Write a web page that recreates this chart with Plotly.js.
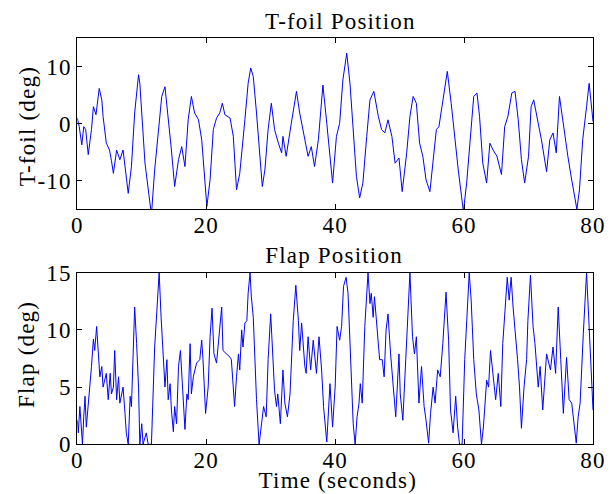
<!DOCTYPE html>
<html>
<head>
<meta charset="utf-8">
<script src="https://cdn.plot.ly/plotly-3.0.1.min.js"></script>
<style>html,body{margin:0;padding:0;background:#fff;}#chart{width:615px;height:494px;}
#chart svg text{letter-spacing:1.2px;}</style>
</head>
<body>
<div id="chart"></div>
<script>
// T-foil position (deg) vs time (s)
var tfoilTime = [0,0.3,0.7,1.0,1.3,1.7,2.2,2.5,2.9,3.4,3.8,4.0,4.5,5.0,5.3,5.6,6.1,6.6,7.1,7.9,8.4,8.9,9.5,9.7,10.5,11.0,11.5,12.0,12.6,13.1,13.6,14.1,14.6,15.1,15.7,16.2,16.7,17.2,17.7,18.2,18.8,19.3,20.1,20.6,21.1,21.6,22.1,22.5,22.9,23.7,24.2,24.7,25.2,26.0,26.5,26.9,27.3,27.8,28.3,28.7,29.1,29.6,30.1,30.6,31.2,31.7,31.9,32.4,33.2,34.0,34.5,35.0,35.8,36.3,36.8,37.4,38.1,38.7,39.2,39.6,40.2,40.7,41.2,41.8,42.3,42.8,43.3,43.8,44.3,44.9,45.4,46.0,46.7,47.2,47.7,48.2,48.8,49.3,49.9,50.4,51.1,51.6,52.1,52.6,53.1,53.6,54.1,54.7,55.2,55.7,56.1,56.5,57.0,57.4,58.0,58.5,59.1,59.6,59.9,60.4,60.9,61.5,62.0,62.4,62.9,63.5,64.0,64.5,65.1,65.8,66.3,66.8,67.4,67.9,68.4,68.9,69.4,70.0,70.4,70.8,71.5,72.0,72.8,73.3,73.8,74.3,74.8,75.6,76.1,76.6,77.2,77.5,77.9,78.4,79.0,79.4,80.0];
var tfoilDeg = [1,-0.5,-3.7,-0.5,-1,-5.4,-1,3,1.6,6.2,4.2,1.3,-3.4,-4.6,-6.5,-8.7,-4.6,-6.3,-4.6,-12.2,-7.5,1.9,8.6,7.1,-6.9,-11.6,-16,-8.1,-1,4.8,6.5,1.3,-4.6,-11,-6.3,-4,-7.5,0.7,4.8,1.9,0.7,-2.8,-14.5,-9.8,-1,1,1.9,3.6,1.6,1,-2.2,-11.6,-8.7,0.7,7.1,9.8,8.3,1.9,-5.7,-11,-8.1,-1,3.6,-1,-3.4,-5.1,-2.2,-5.7,0.1,5.7,1.9,-1,-5.7,-4,-7.5,-2.8,6.8,0.1,-6.3,-10.4,-2.2,0.1,7.7,12.4,7.1,-1,-9.2,-13,-10.4,-2.2,4.2,5.7,1.3,-1,-1.6,0.7,-2.2,-6.9,-6,-11.9,-5.1,1.3,4.8,3.6,-3.4,-5.7,-9.8,-11.9,-6.9,-1,-0.5,2.5,6,9.2,3.6,-2.2,-8.1,-12.7,-15.4,-10.4,-2.8,4.8,5.4,1.3,-6.9,-10.4,-3.4,-4.6,-5.7,-8.9,-0.5,1.3,5.4,5.7,0.7,-6.3,-10.4,-5.7,3,4.2,0.1,-2.8,-8.4,-2.8,-1.6,-5.1,4.8,-2.2,-5.7,-9.2,-13.3,-15,-11.6,-2.8,3,7.1,0.4];

// Flap position (deg) vs time (s)
var flapTime = [0,0.15,0.4,0.7,0.8,1.0,1.2,1.4,1.7,2.0,2.2,2.5,2.7,3.0,3.3,3.5,3.8,4.0,4.5,4.8,5.1,5.3,5.6,5.8,6.1,6.4,6.6,7.1,7.4,7.6,7.9,8.2,8.4,8.7,8.9,9.2,9.5,9.7,10.0,10.2,10.7,11.0,11.5,12.0,12.3,12.7,13.0,13.3,13.6,13.9,14.1,14.4,14.6,14.9,15.1,15.4,15.7,16.0,16.3,16.7,17.0,17.2,17.5,17.7,18.0,18.5,19.0,19.3,19.5,19.9,20.3,20.6,20.9,21.2,21.6,22.0,22.4,22.6,23.2,23.7,23.9,24.2,24.4,24.7,25.0,25.2,25.5,25.7,26.0,26.3,26.5,26.8,27.0,27.3,27.5,27.8,28.2,28.6,28.9,29.3,29.6,30.0,30.4,30.6,30.9,31.1,31.5,31.7,31.9,32.2,32.6,33.0,33.2,33.5,33.9,34.3,34.5,34.8,35.3,35.5,35.8,36.2,36.6,37.1,37.5,37.9,38.2,38.7,39.2,39.6,40.0,40.3,40.7,41.0,41.3,41.7,42.0,42.4,42.8,43.1,43.4,43.7,43.9,44.2,44.6,45.1,45.4,45.6,45.9,46.1,46.5,46.9,47.3,47.6,47.9,48.2,48.6,48.9,49.4,49.9,50.1,50.5,50.8,51.2,51.6,52.0,52.3,52.6,53.0,53.4,53.8,54.1,54.5,54.8,55.2,55.5,55.9,56.3,56.7,57.2,57.6,57.9,58.3,58.7,59.0,59.3,59.7,60.1,60.5,60.8,61.1,61.5,61.9,62.3,62.7,63.0,63.5,63.8,64.1,64.5,64.9,65.3,65.7,66.0,66.3,66.7,67.0,67.3,67.6,67.9,68.3,68.6,68.9,69.3,69.7,69.9,70.3,70.7,71.0,71.5,71.8,72.2,72.6,72.8,73.4,73.8,74.2,74.6,75.0,75.4,75.9,76.3,76.7,77.0,77.4,77.7,78.0,78.5,79.0,79.4,79.8,80.0];
var flapDeg = [2.1,1,3.3,0.7,0,2.4,4.2,1.5,3.3,5,6.8,9.2,8.2,10.3,7.6,5.9,6.8,5,6.2,3.9,6.2,4.4,5,8.2,3.9,5.9,3.6,5,2.7,1,0,4.2,3.3,8.8,12,8.8,5,0,1.8,0,1,0,0,8.5,11.1,15,11.1,7.9,5,7.4,3.9,5.3,3,1.1,3.3,1.8,6.8,8.2,5,1.3,4.4,3.9,8.8,4.4,5.9,7.1,7.4,9.1,7.4,2.7,5,9.4,11.9,7.9,7.1,9.8,12,8.2,7.9,7.6,7.4,5.3,3.3,5.9,7.9,6.5,10,8.5,10.6,10.8,13.2,15,12.9,11.1,7.9,3.9,0,2.1,3.3,2.4,7.4,11.4,7.1,4.7,3.3,4.4,1.8,5,6.5,3.6,2.4,4.4,6.8,10.8,13.9,10.8,8.2,10.6,6.8,6.2,9.4,6.5,9.1,6.2,9.4,6.5,3.3,0.2,5.3,1.5,5,10.3,9.1,10.3,13.8,14.6,13.2,6.8,1.8,0,2.4,3.6,5.3,3.6,10.3,15,12.3,13.2,11.1,12.9,10.3,7.4,7.4,5.9,10,11.4,7.9,5.9,2.4,7.9,4.4,2.1,5.9,10.3,15,9.4,7.9,9.4,3.6,6.8,3.3,2.1,0.1,2.7,5,3.6,6.5,5.9,8.8,13.3,9.1,3,1,4.2,1.5,0,0,7.4,12.3,15,12.6,7.4,4.4,3,0,1.5,5.6,5,8.2,5.9,3.9,6.2,3.3,8.8,11.7,14.6,12.6,14.6,12,10.3,7.4,5,1.4,5,7.4,10.8,14.8,10.3,8.8,5,6.8,3,6.5,7.9,6.5,8.5,6.2,12,7.4,2.7,7.6,3.9,3.6,2.1,0.1,2.4,3.6,9.7,15,10.3,5.9,3];

var xTicks = [0,20,40,60,80];
var tfoilTicks = [-10,0,10];
var tfoilTickText = ["-10","0","10"];
var flapTicks = [0,5,10,15];

var font = {family: "Liberation Serif, Times New Roman, serif", size: 23, color: "#000"};
function axis(extra){
  var a = {showgrid:false, zeroline:false, showline:true, linecolor:"#000", linewidth:1,
    mirror:"ticks", ticks:"inside", ticklen:5, tickcolor:"#000", tickfont:font};
  for (var k in extra) a[k]=extra[k];
  return a;
}
var traces = [
  {x: tfoilTime, y: tfoilDeg, type:"scatter", mode:"lines", line:{color:"#0000ff", width:1}, xaxis:"x", yaxis:"y", hoverinfo:"skip"},
  {x: flapTime, y: flapDeg, type:"scatter", mode:"lines", line:{color:"#0000ff", width:1}, xaxis:"x2", yaxis:"y2", hoverinfo:"skip"}
];
var xd = [77.3/615, 593/615];
var layout = {
  width:615, height:494, showlegend:false,
  paper_bgcolor:"#fff", plot_bgcolor:"#fff",
  margin:{l:0,r:0,t:0,b:0},
  xaxis: axis({domain:xd, anchor:"y", range:[0,80], tickvals:xTicks, ticklabelstandoff:-5}),
  yaxis: axis({domain:[1-209.3/494, 1-38.3/494], anchor:"x", range:[-15,15], tickvals:tfoilTicks, ticktext:tfoilTickText}),
  xaxis2: axis({domain:xd, anchor:"y2", range:[0,80], tickvals:xTicks, ticklabelstandoff:-5}),
  yaxis2: axis({domain:[1-444.3/494, 1-272.7/494], anchor:"x2", range:[0,15], tickvals:flapTicks}),
  annotations:[
    {text:"T-foil Position", xref:"paper", yref:"paper", x:340/615, y:1-22/494, showarrow:false, font:font, xanchor:"center", yanchor:"middle"},
    {text:"Flap Position", xref:"paper", yref:"paper", x:334/615, y:1-255/494, showarrow:false, font:font, xanchor:"center", yanchor:"middle"},
    {text:"Time (seconds)", xref:"paper", yref:"paper", x:338/615, y:1-480/494, showarrow:false, font:font, xanchor:"center", yanchor:"middle"},
    {text:"T-foil (deg)", xref:"paper", yref:"paper", x:27/615, y:1-126/494, showarrow:false, font:font, textangle:-90, xanchor:"center", yanchor:"middle"},
    {text:"Flap (deg)", xref:"paper", yref:"paper", x:26/615, y:1-355/494, showarrow:false, font:font, textangle:-90, xanchor:"center", yanchor:"middle"}
  ]
};
Plotly.newPlot("chart", traces, layout, {displayModeBar:false, staticPlot:true});
</script>
</body>
</html>
